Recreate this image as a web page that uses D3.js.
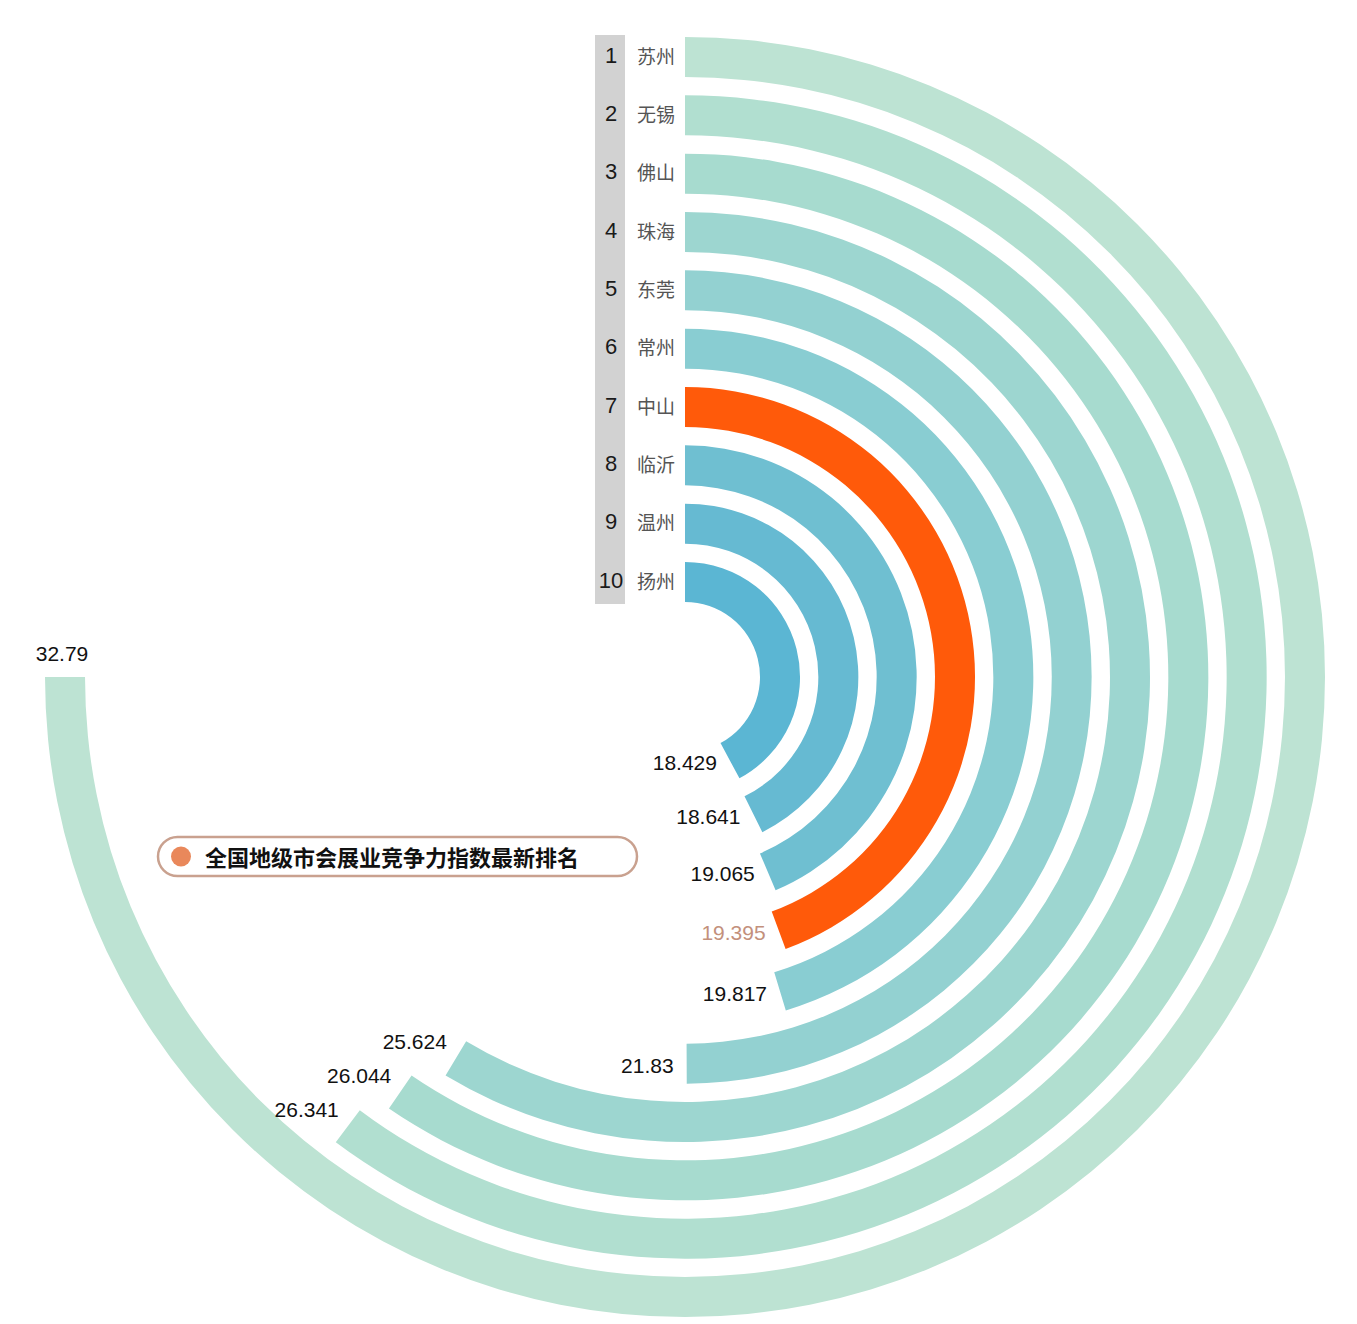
<!DOCTYPE html>
<html>
<head>
<meta charset="utf-8">
<script src="https://cdn.jsdelivr.net/npm/d3@7"></script>
<style>
  html, body { margin: 0; padding: 0; background: #ffffff; }
  svg { display: block; }
</style>
</head>
<body>
<svg id="chart" width="1357" height="1324"></svg>
<script>
// ---- data ----
const ranks  = [1, 2, 3, 4, 5, 6, 7, 8, 9, 10];
const cities = ["苏州", "无锡", "佛山", "珠海", "东莞", "常州", "中山", "临沂", "温州", "扬州"];
const values = [32.79, 26.341, 26.044, 25.624, 21.83, 19.817, 19.395, 19.065, 18.641, 18.429];
const valueLabels = ["32.79", "26.341", "26.044", "25.624", "21.83", "19.817", "19.395", "19.065", "18.641", "18.429"];
const highlightCity = "中山";
const legendTitle = "全国地级市会展业竞争力指数最新排名";

// ---- styles ----
const ringColors = ["#bde3d3", "#b1dfd0", "#a7dbcf", "#9dd6d0", "#93d1d1", "#89cdd2", "#ff5a0a", "#6fbfd1", "#66bad2", "#5bb6d3"];
const cx = 685, cy = 677;
const fontLatin = "'Liberation Sans', Arial, sans-serif";
const fontCJK = "'Noto Sans CJK SC', 'Noto Sans', sans-serif";

(function () {
const svg = d3.select("#chart");
const g = svg.append("g").attr("transform", `translate(${cx},${cy})`);

const angle = d3.scaleLinear().domain([0, 32.79]).range([0, Math.PI * 1.5]);
const radius = d3.scaleBand().domain(cities).range([640, 75]).paddingInner(0.314).paddingOuter(0);
const bw = radius.bandwidth();

const data = cities.map((c, i) => ({ city: c, rank: ranks[i], value: values[i], label: valueLabels[i], color: ringColors[i] }));

const arc = d3.arc()
  .innerRadius(d => radius(d.city))
  .outerRadius(d => radius(d.city) + bw)
  .startAngle(0)
  .endAngle(d => angle(d.value));

g.selectAll("path.ring").data(data).enter().append("path")
  .attr("class", "ring")
  .attr("d", arc)
  .attr("fill", d => d.color);

// rank column
const colTop = radius(cities[0]) + bw;
const colBottom = radius(cities[cities.length - 1]);
g.append("rect")
  .attr("x", -90).attr("y", -colTop - 2)
  .attr("width", 30).attr("height", colTop - colBottom + 4)
  .attr("fill", "#d2d2d2");

g.selectAll("text.rank").data(data).enter().append("text")
  .attr("class", "rank")
  .attr("x", -74)
  .attr("y", d => -(radius(d.city) + bw / 2) - 2)
  .attr("text-anchor", "middle")
  .attr("dominant-baseline", "central")
  .attr("font-family", fontLatin)
  .attr("font-size", 22)
  .attr("fill", "#1a1a1a")
  .text(d => d.rank);

g.selectAll("text.city").data(data).enter().append("text")
  .attr("class", "city")
  .attr("x", -48)
  .attr("y", d => -(radius(d.city) + bw / 2) - 2)
  .attr("dominant-baseline", "central")
  .attr("font-family", fontCJK)
  .attr("font-size", 19)
  .attr("fill", "#555555")
  .text(d => d.city);

// value labels
g.selectAll("text.val").data(data).enter().append("text")
  .attr("class", "val")
  .each(function(d) {
    const a = angle(d.value);
    const r = radius(d.city) + bw / 2;
    const ex = r * Math.sin(a), ey = -r * Math.cos(a);
    const sel = d3.select(this);
    if (a >= Math.PI * 1.5 - 1e-6) {
      sel.attr("x", ex - 3).attr("y", ey - 24).attr("text-anchor", "middle");
    } else if (a > Math.PI + 0.05) {
      sel.attr("x", ex - 9).attr("y", ey - 17).attr("text-anchor", "end");
    } else {
      sel.attr("x", ex - 13).attr("y", ey + 2).attr("text-anchor", "end");
    }
  })
  .attr("dominant-baseline", "central")
  .attr("font-family", fontLatin)
  .attr("font-size", 21)
  .attr("fill", d => d.city === highlightCity ? "#c3907c" : "#111111")
  .text(d => d.label);

// legend
const lg = svg.append("g");
lg.append("rect")
  .attr("x", 158).attr("y", 837)
  .attr("width", 479).attr("height", 39)
  .attr("rx", 19.5)
  .attr("fill", "#ffffff")
  .attr("stroke", "#c9a18f")
  .attr("stroke-width", 2.5);
lg.append("circle")
  .attr("cx", 181).attr("cy", 856.5).attr("r", 10)
  .attr("fill", "#e9885b");
lg.append("text")
  .attr("x", 205).attr("y", 855.5)
  .attr("dominant-baseline", "central")
  .attr("font-family", fontCJK)
  .attr("font-weight", "bold")
  .attr("font-size", 22)
  .attr("fill", "#111111")
  .text(legendTitle);
})();
</script>
</body>
</html>
